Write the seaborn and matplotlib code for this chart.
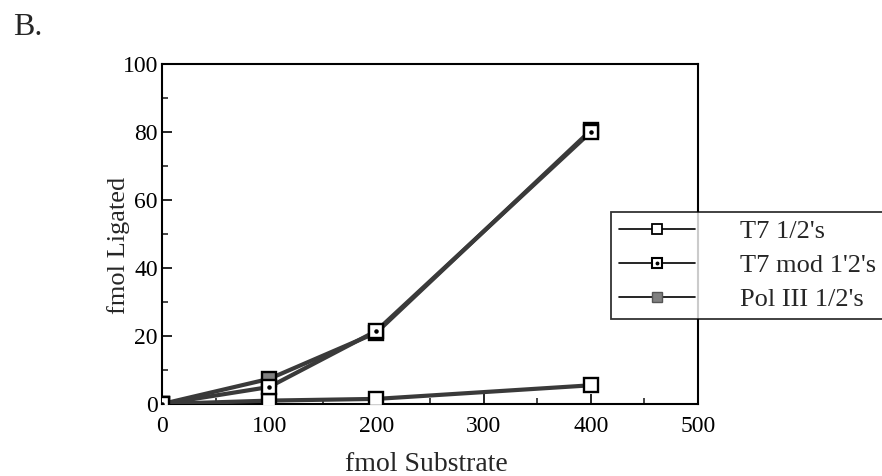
# Ligation plot, panel B

import numpy as np
import pandas as pd
import matplotlib
matplotlib.use("Agg")
import matplotlib.pyplot as plt
from matplotlib.lines import Line2D
from matplotlib.ticker import MultipleLocator
import seaborn as sns

# Data

substrate = [0, 100, 200, 400]
t7_half = [0, 1, 1.5, 5.5]
t7_mod = [0, 5, 21.5, 80]
pol3_half = [0, 7.4, 21, 80.5]

labels = ["T7 1/2's", "T7 mod 1'2's", "Pol III 1/2's"]
x_ticks = [0, 100, 200, 300, 400, 500]
y_ticks = [0, 20, 40, 60, 80, 100]

df = pd.DataFrame({
    "substrate": substrate * 3,
    "ligated": t7_half + t7_mod + pol3_half,
    "series": [labels[0]] * 4 + [labels[1]] * 4 + [labels[2]] * 4,
})

sns.set_style("ticks")
plt.rcParams['font.family'] = ['Liberation Serif', 'DejaVu Serif']

fig = plt.figure(figsize=(8.82, 4.76), dpi=100)
ax = fig.add_axes([162 / 882, 1 - 404 / 476, 536 / 882, 340 / 476])

line_col = "#3a3a3a"
face = {labels[0]: "white", labels[1]: "white", labels[2]: "#808080"}

# draw order: T7 1/2's first, then Pol III, T7 mod on top
for name in [labels[0], labels[2], labels[1]]:
    sub = df[df["series"] == name]
    sns.lineplot(data=sub, x="substrate", y="ligated", ax=ax,
                 color=line_col, linewidth=3, marker="s", markersize=10,
                 markerfacecolor=face[name], markeredgecolor="black",
                 markeredgewidth=1.7, legend=False, zorder=3)

# small centre dot of the T7 mod markers
mod = df[df["series"] == labels[1]]
ax.scatter(mod["substrate"], mod["ligated"], s=5, color="black", zorder=5)

ax.set_xlim(0, 500)
ax.set_ylim(0, 100)
ax.set_xticks(x_ticks)
ax.set_yticks(y_ticks)
ax.xaxis.set_minor_locator(MultipleLocator(50))
ax.yaxis.set_minor_locator(MultipleLocator(10))
ax.tick_params(which="major", direction="in", length=7, width=1.2,
               labelsize=17, colors="black")
ax.tick_params(which="minor", direction="in", length=4, width=1.2)
ax.tick_params(axis="x", pad=9)
ax.tick_params(axis="y", pad=3)
for s in ax.spines.values():
    s.set_linewidth(1.5)
    s.set_color("black")
    s.set_visible(True)

ax.set_xlabel("fmol Substrate", fontsize=20)
ax.set_ylabel("fmol Ligated", fontsize=19)
ax.xaxis.set_label_coords(0.4925, -0.141)
ax.yaxis.set_label_coords(-0.06, 0.468)

fig.text(13 / 882, 1 - 35 / 476, "B.", fontsize=23)

# legend with thin lines, box runs off the right edge
def marker_line(fc, ec, mew):
    return Line2D([], [], color="black", lw=1.2, marker="s", markersize=7,
                  markerfacecolor=fc, markeredgecolor=ec, markeredgewidth=mew)

dot = Line2D([], [], color="black", lw=0, marker="o", markersize=1.8)
handles = [
    marker_line("white", "black", 1.3),
    (marker_line("white", "black", 1.5), dot),
    marker_line("#808080", "#555555", 1.0),
]
leg = fig.legend(handles, labels, loc="upper left",
                 bbox_to_anchor=(611 / 882, 0, 0.4, 1 - 212 / 476),
                 mode="expand", borderaxespad=0, fontsize=19,
                 handlelength=2.9, handletextpad=1.7, labelspacing=0.4,
                 borderpad=0.3, frameon=True, fancybox=False)
leg.get_frame().set_edgecolor("black")
leg.get_frame().set_linewidth(1.3)

fig.savefig("out.png", dpi=100)
